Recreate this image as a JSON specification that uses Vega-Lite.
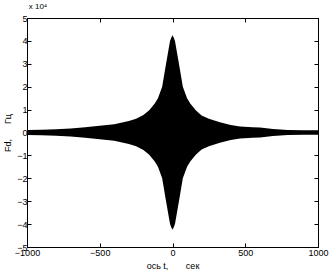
{
  "$schema": "https://vega.github.io/schema/vega-lite/v6.json",
  "width": 291,
  "height": 229,
  "autosize": {"type": "none"},
  "padding": {"left": 27, "top": 18, "right": 15, "bottom": 28},
  "background": "white",
  "config": {
    "view": {"stroke": "black", "strokeWidth": 1},
    "font": "Liberation Sans",
    "axis": {
      "grid": false,
      "domainColor": "black",
      "domainWidth": 1,
      "tickColor": "black",
      "tickSize": -4,
      "labelColor": "black",
      "labelFont": "Liberation Sans",
      "labelFontSize": 9,
      "titleFont": "Liberation Sans",
      "titleFontSize": 9,
      "titleFontWeight": "normal",
      "titleColor": "black"
    }
  },
  "title": {
    "text": "x 10⁴",
    "anchor": "start",
    "align": "left",
    "fontSize": 8,
    "fontWeight": "normal",
    "font": "Liberation Sans",
    "color": "black",
    "offset": 3,
    "dx": 25
  },
  "data": {
    "values": [
      {"t": -1000, "hi": 0.11, "lo": -0.11},
      {"t": -900, "hi": 0.12, "lo": -0.12},
      {"t": -800, "hi": 0.14, "lo": -0.14},
      {"t": -700, "hi": 0.18, "lo": -0.18},
      {"t": -600, "hi": 0.23, "lo": -0.23},
      {"t": -500, "hi": 0.3, "lo": -0.3},
      {"t": -400, "hi": 0.36, "lo": -0.36},
      {"t": -300, "hi": 0.5, "lo": -0.5},
      {"t": -250, "hi": 0.6, "lo": -0.6},
      {"t": -200, "hi": 0.76, "lo": -0.76},
      {"t": -160, "hi": 0.97, "lo": -0.97},
      {"t": -122, "hi": 1.27, "lo": -1.27},
      {"t": -100, "hi": 1.5, "lo": -1.5},
      {"t": -71, "hi": 2.0, "lo": -2.0},
      {"t": -47, "hi": 2.9, "lo": -2.9},
      {"t": -32, "hi": 3.45, "lo": -3.45},
      {"t": -17, "hi": 4.0, "lo": -4.0},
      {"t": -8, "hi": 4.15, "lo": -4.15},
      {"t": 0, "hi": 4.25, "lo": -4.25},
      {"t": 8, "hi": 4.15, "lo": -4.15},
      {"t": 17, "hi": 4.0, "lo": -4.0},
      {"t": 32, "hi": 3.45, "lo": -3.45},
      {"t": 47, "hi": 2.9, "lo": -2.9},
      {"t": 71, "hi": 2.0, "lo": -2.0},
      {"t": 100, "hi": 1.5, "lo": -1.5},
      {"t": 122, "hi": 1.27, "lo": -1.27},
      {"t": 160, "hi": 0.97, "lo": -0.97},
      {"t": 200, "hi": 0.74, "lo": -0.74},
      {"t": 250, "hi": 0.6, "lo": -0.6},
      {"t": 326, "hi": 0.45, "lo": -0.45},
      {"t": 400, "hi": 0.33, "lo": -0.33},
      {"t": 464, "hi": 0.26, "lo": -0.26},
      {"t": 550, "hi": 0.23, "lo": -0.23},
      {"t": 601, "hi": 0.22, "lo": -0.22},
      {"t": 690, "hi": 0.15, "lo": -0.15},
      {"t": 793, "hi": 0.11, "lo": -0.11},
      {"t": 900, "hi": 0.1, "lo": -0.1},
      {"t": 1000, "hi": 0.1, "lo": -0.1}
    ]
  },
  "layer": [
    {
      "mark": {"type": "area", "color": "black", "interpolate": "linear", "opacity": 1},
      "encoding": {
        "x": {
          "field": "t", "type": "quantitative",
          "scale": {"domain": [-1000, 1000], "nice": false},
          "axis": {"orient": "bottom", "values": [-1000, -500, 0, 500, 1000], "format": "d", "title": "ось t,\u00a0\u00a0\u00a0\u00a0\u00a0\u00a0\u00a0сек", "labelPadding": 5, "titlePadding": 4, "labelFlush": false}
        },
        "y": {
          "field": "hi", "type": "quantitative",
          "scale": {"domain": [-5, 5], "nice": false, "zero": false},
          "axis": {"orient": "left", "values": [-5, -4, -3, -2, -1, 0, 1, 2, 3, 4, 5], "format": "d", "title": "Fd,\u00a0\u00a0\u00a0\u00a0\u00a0\u00a0Гц", "labelPadding": 4, "titlePadding": 4}
        },
        "y2": {"field": "lo"}
      }
    },
    {
      "mark": {"type": "point", "opacity": 0},
      "encoding": {
        "x": {
          "field": "t", "type": "quantitative",
          "axis": {"orient": "top", "values": [-1000, -500, 0, 500, 1000], "labels": false, "title": null}
        },
        "y": {
          "field": "hi", "type": "quantitative",
          "axis": {"orient": "right", "values": [-5, -4, -3, -2, -1, 0, 1, 2, 3, 4, 5], "labels": false, "title": null}
        }
      }
    }
  ],
  "resolve": {"axis": {"x": "independent", "y": "independent"}}
}
